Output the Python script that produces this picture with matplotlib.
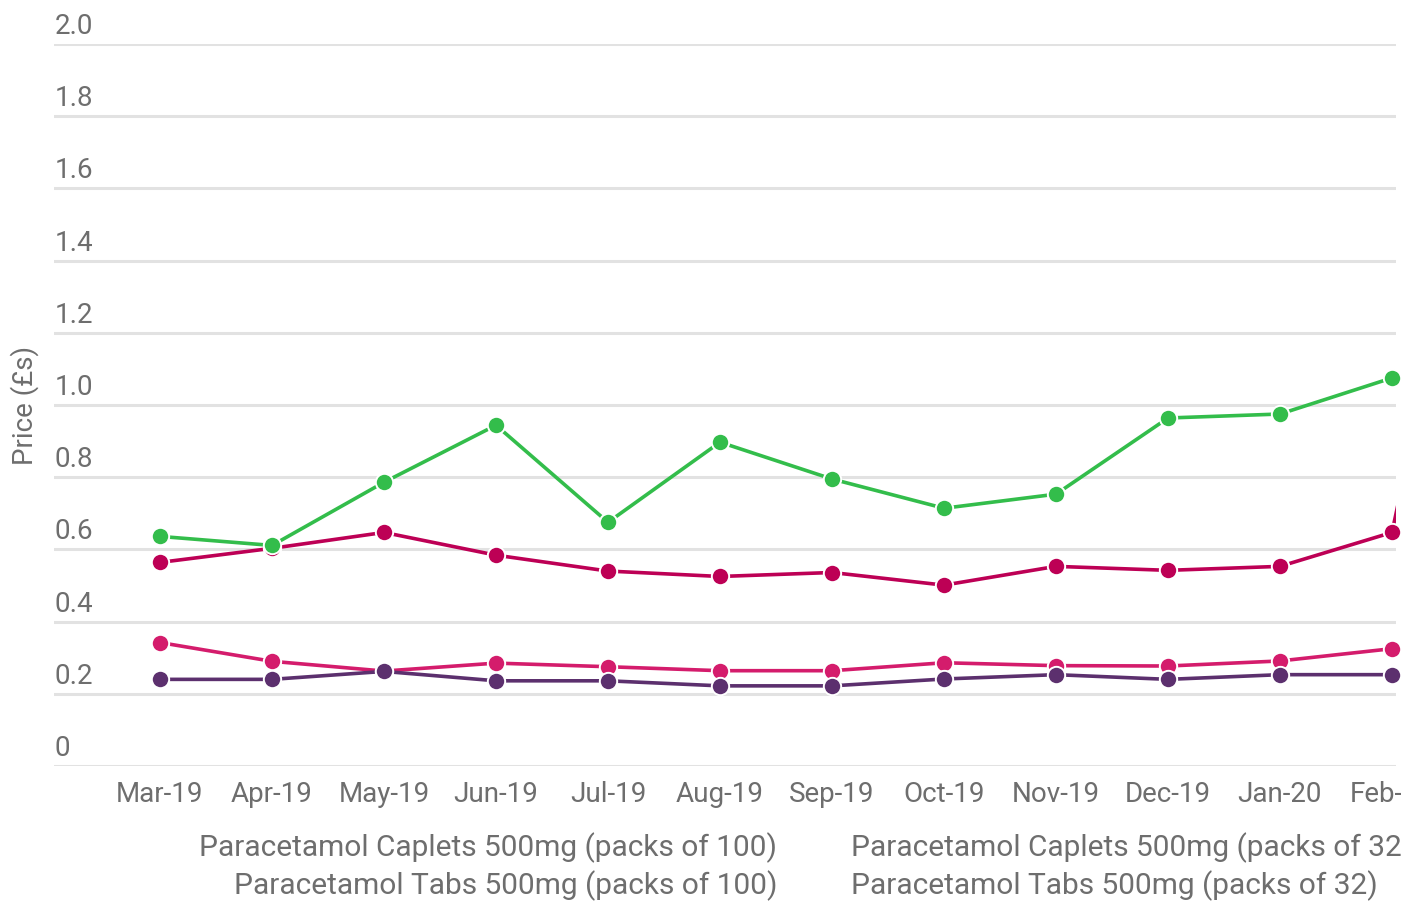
import numpy as np
import matplotlib
matplotlib.use("Agg")
import matplotlib.pyplot as plt
from matplotlib import transforms

plt.rcParams['font.family'] = ['Roboto', 'DejaVu Sans']

months = ["Mar-19", "Apr-19", "May-19", "Jun-19", "Jul-19", "Aug-19", "Sep-19",
          "Oct-19", "Nov-19", "Dec-19", "Jan-20", "Feb-20", "Mar-20"]

# prices (£); Mar-20 only visible for the spiking series
caplets_100 = [0.564, 0.603, 0.647, 0.584, 0.540, 0.525, 0.536, 0.501, 0.553, 0.542, 0.553, 0.647, 2.1]
caplets_32 = [0.342, 0.290, 0.263, 0.285, 0.275, 0.264, 0.264, 0.286, 0.278, 0.277, 0.291, 0.325, np.nan]
tabs_100 = [0.636, 0.611, 0.786, 0.944, 0.675, 0.897, 0.795, 0.714, 0.753, 0.964, 0.975, 1.075, np.nan]
tabs_32 = [0.240, 0.240, 0.262, 0.236, 0.236, 0.222, 0.222, 0.241, 0.253, 0.240, 0.253, 0.253, np.nan]

series = [
    ("Paracetamol Caplets 500mg (packs of 100)", caplets_100, "#bd0055"),
    ("Paracetamol Caplets 500mg (packs of 32)", caplets_32, "#d41c6c"),
    ("Paracetamol Tabs 500mg (packs of 100)", tabs_100, "#33bd4b"),
    ("Paracetamol Tabs 500mg (packs of 32)", tabs_32, "#5c306e"),
]
yticks = [0, 0.2, 0.4, 0.6, 0.8, 1.0, 1.2, 1.4, 1.6, 1.8, 2.0]
ytick_labels = ["0", "0.2", "0.4", "0.6", "0.8", "1.0", "1.2", "1.4", "1.6", "1.8", "2.0"]

W, H = 1401, 901
fig = plt.figure(figsize=(W / 100, H / 100), dpi=100)
ax = fig.add_axes([54 / W, (H - 766) / H, (1396 - 54) / W, (766 - 44) / H])

x = np.arange(len(months))
grey = "#6e6e6e"
for name, vals, col in series:
    ax.plot(x, vals, color=col, lw=2.6, zorder=3, solid_capstyle="butt")
    ax.plot(x, vals, ls="none", marker="o", ms=12.5, mfc=col, mec="white", mew=1.4,
            zorder=4, clip_on=False)

ax.set_xlim(-106 / 112, 11 + 4 / 112)
ax.set_ylim(0, 2.0)
ax.set_yticks(yticks)
ax.yaxis.grid(True, color="#e2e2e2", lw=2.2)
ax.set_axisbelow(True)
ax.tick_params(axis="y", length=0, labelleft=False)
for s in ax.spines.values():
    s.set_visible(False)

# y labels sit above their gridlines, left aligned
trans = transforms.offset_copy(ax.get_yaxis_transform(), fig=fig, x=1, y=4, units="dots")
for v, lab in zip(yticks, ytick_labels):
    ax.text(0, v, lab, transform=trans, ha="left", va="bottom", fontsize=20, color=grey)

ax.set_xticks(x[:12])
ax.set_xticklabels(months[:12], fontsize=20, color=grey)
ax.tick_params(axis="x", length=0, pad=11)

fig.text(25 / W, 1 - 405 / H, "Price (£s)", rotation=90, ha="center", va="center",
         fontsize=20, color=grey)

# legend (text only, as in the screenshot)
fig.text(777 / W, 1 - 848 / H, series[0][0], ha="right", va="center", fontsize=21.5, color=grey)
fig.text(851 / W, 1 - 848 / H, series[1][0], ha="left", va="center", fontsize=21.5, color=grey)
fig.text(777 / W, 1 - 886 / H, series[2][0], ha="right", va="center", fontsize=21.5, color=grey)
fig.text(851 / W, 1 - 886 / H, series[3][0], ha="left", va="center", fontsize=21.5, color=grey)

fig.savefig("out.png", dpi=100)
